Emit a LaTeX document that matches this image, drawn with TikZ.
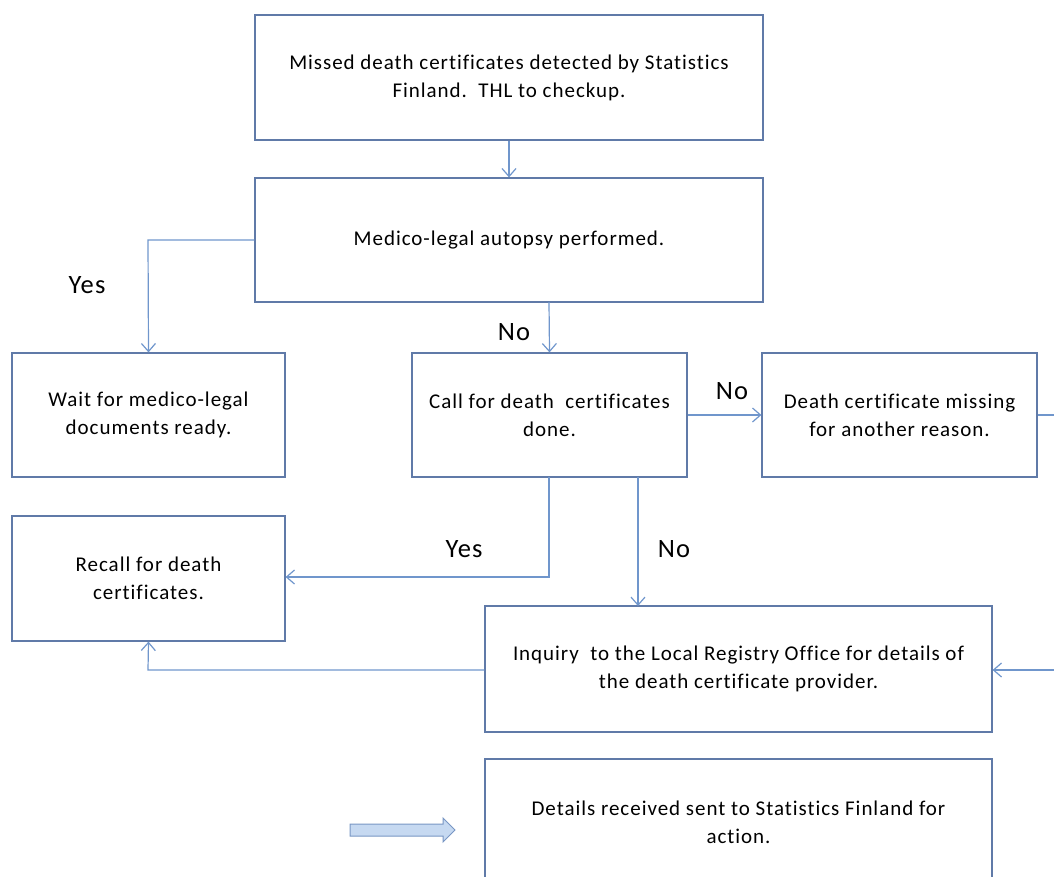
\documentclass[tikz,border=0pt]{standalone}
\usepackage{fontspec}
\setmainfont{Carlito}[LetterSpace=4.6,Ligatures=NoCommon]
\usetikzlibrary{arrows.meta}
\definecolor{boxline}{RGB}{96,122,168}
\definecolor{linkline}{RGB}{112,150,204}
\definecolor{blockfill}{RGB}{198,217,241}
\definecolor{blockline}{RGB}{120,150,196}
\begin{document}
\begin{tikzpicture}[x=1pt,y=-1pt,
  stepbox/.style={draw=boxline,line width=1.2pt,fill=white,align=center,
    inner sep=0pt,font=\fontsize{21}{28}\selectfont},
  link/.style={draw=linkline,line width=1.2pt,-{Straight Barb[length=8pt,width=14pt,line width=1.2pt]}},
  answer/.style={font=\fontsize{26.5}{28}\selectfont,inner sep=0pt}]
\useasboundingbox (0,0) rectangle (1054,877);
\clip (0,0) rectangle (1054,877);

% process boxes
\node[stepbox,minimum width=508pt,minimum height=125pt] (detect) at (509,77.5) {Missed death certificates detected by Statistics\\Finland.\ \ THL to checkup.};
\node[stepbox,minimum width=508pt,minimum height=124pt] (autopsy) at (509,240) {Medico-legal autopsy performed.};
\node[stepbox,minimum width=273pt,minimum height=124pt] (wait) at (148.5,415) {Wait for medico-legal\\documents ready.};
\node[stepbox,minimum width=275pt,minimum height=124pt] (call) at (549.5,415) {Call for death\ \ certificates\\done.};
\node[stepbox,minimum width=275pt,minimum height=124pt] (missing) at (899.5,415) {Death certificate missing\\for another reason.};
\node[stepbox,minimum width=273pt,minimum height=125pt] (recall) at (148.5,578.5) {Recall for death\\certificates.};
\node[stepbox,minimum width=507pt,minimum height=126pt] (inquiry) at (738.5,669) {Inquiry\ \ to the Local Registry Office for details of\\the death certificate provider.};
\node[stepbox,minimum width=507pt,minimum height=126pt] (details) at (738.5,822) {Details received sent to Statistics Finland for\\action.};

% connectors
\draw[link] (detect.south) -- (autopsy.north);
\coordinate (yesturn) at (148,240);
\draw[link] (autopsy.west) -- (yesturn) -- (wait.north);
\draw[link] (549,302) -- (call.north);
\draw[link] (call.east) -- (missing.west);
\coordinate (recallturn) at (549,577);
\draw[link] (549,477) -- (recallturn) -- (recall.east |- recallturn);
\draw[link] (638,477) -- (638,606);
\coordinate (backturn) at (148,670);
\draw[link] (inquiry.west |- backturn) -- (backturn) -- (recall.south);
\coordinate (outA) at (1070,415);
\coordinate (outB) at (1070,670);
\draw[link] (missing.east) -- (outA) -- (outB) -- (inquiry.east |- outB);

% answer labels
\node[answer] (yes1) at (87,285) {Yes};
\node[answer] (no1) at (514,332) {No};
\node[answer] (no2) at (732,391) {No};
\node[answer] (yes2) at (464,549) {Yes};
\node[answer] (no3) at (674,549) {No};

% block arrow
\draw[draw=blockline,fill=blockfill,line width=1pt]
  (350,824) -- (443,824) -- (443,818) -- (455,830) -- (443,842) -- (443,836) -- (350,836) -- cycle;
\end{tikzpicture}
\end{document}
